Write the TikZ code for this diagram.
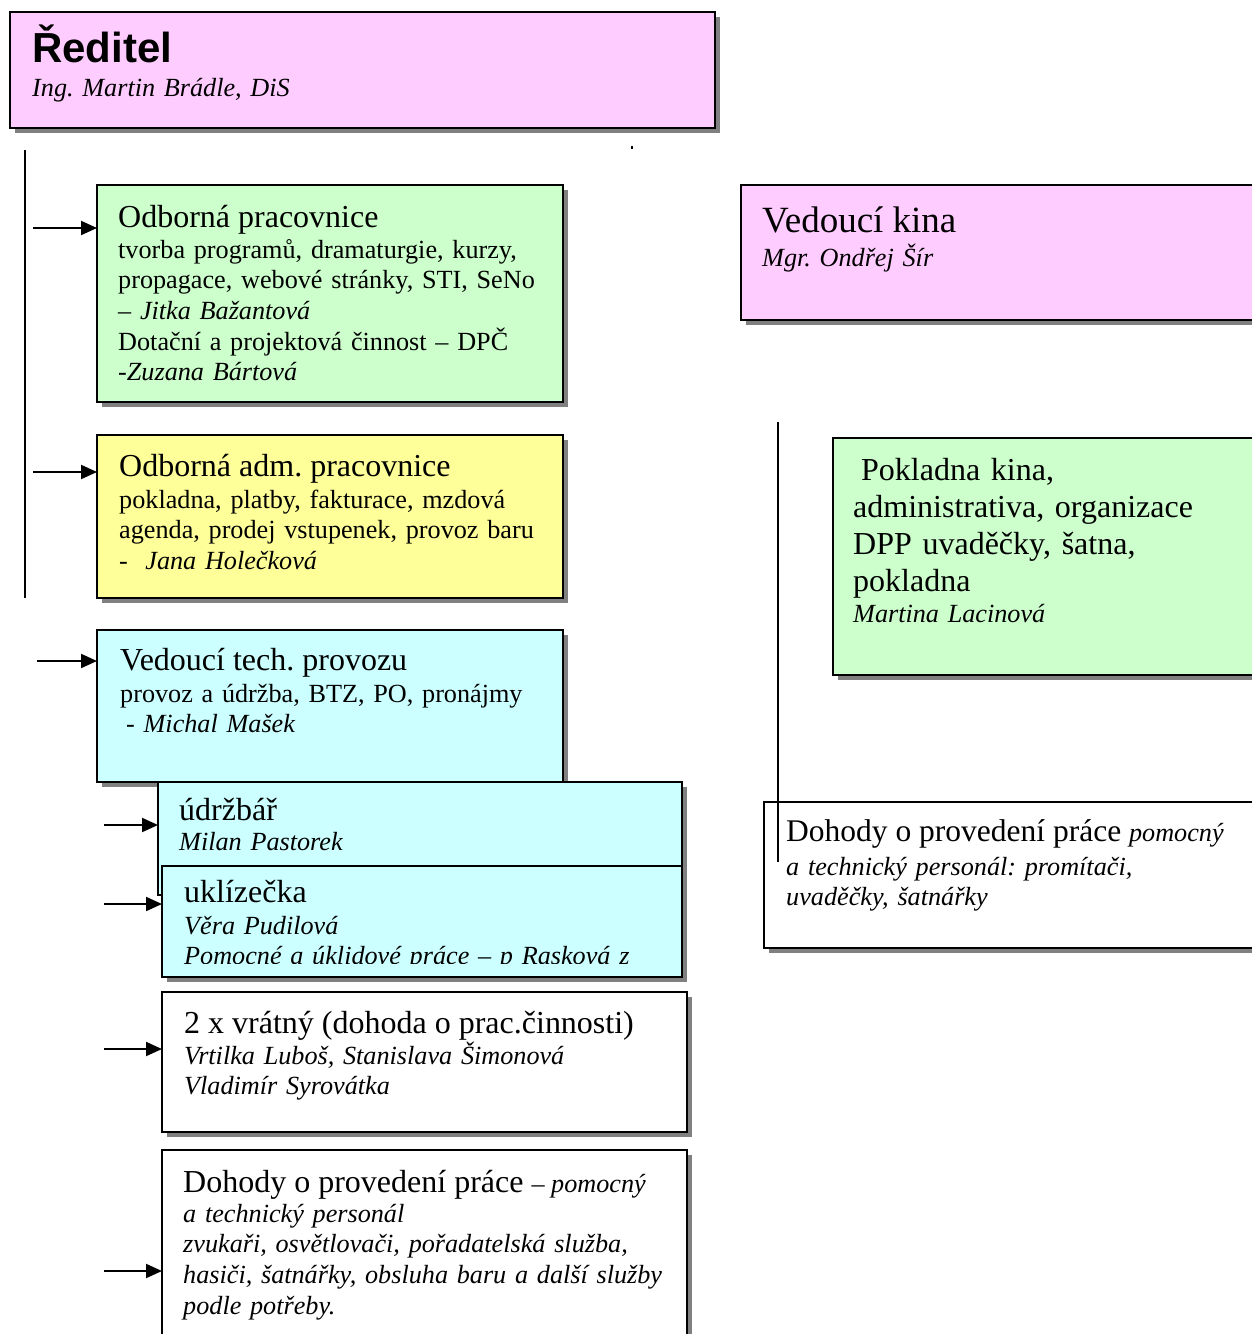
\documentclass[tikz,border=0pt]{standalone}
\usepackage{fontspec}
\setmainfont{Liberation Serif}
\newfontfamily\headsans{Liberation Sans}
\usepackage{xcolor}
\usepackage{tikz}
\usetikzlibrary{calc,arrows.meta,shadows}
\definecolor{pinkbg}{HTML}{FFCCFF}
\definecolor{greenbg}{HTML}{CCFFCC}
\definecolor{yellowbg}{HTML}{FFFF99}
\definecolor{cyanbg}{HTML}{CCFFFF}
\definecolor{shade}{HTML}{808080}
\tikzset{
  box/.style={draw=black, line width=1.5pt, anchor=north west, inner sep=0pt, outer sep=0pt,
    drop shadow={shadow xshift=5pt, shadow yshift=-5pt, fill=shade, opacity=1}},
  ttl/.style={anchor=base west, inner sep=0pt, font=\fontsize{32}{36}\selectfont},
  txt/.style={anchor=base west, inner sep=0pt, align=left, text width=560pt,
    font=\fontsize{26.2}{30.7}\selectfont},
  arr/.style={line width=2pt, -{Triangle[length=16pt,width=14pt]}},
  rule/.style={line width=2pt},
}
\frenchspacing
\begin{document}
\begin{tikzpicture}[x=1pt,y=-1pt]
  \useasboundingbox (0,0) rectangle (1252,1334);
  \clip (0,0) rectangle (1252,1334);

  % left column
  \node[box, fill=pinkbg, minimum width=705pt, minimum height=116pt] (red) at (10,12) {};
  \node[anchor=base west, inner sep=0pt, font=\headsans\bfseries\fontsize{42}{46}\selectfont] (redT) at (32,62) {Ředitel};
  \node[txt] (redB) at (32,96) {\textit{Ing. Martin Brádle, DiS}};
  \fill (631,146) rectangle (633,149);

  \node[box, fill=greenbg, minimum width=466pt, minimum height=217pt] (opn) at (97,185) {};
  \node[ttl] (opnT) at (118,227) {Odborná pracovnice};
  \node[txt] (opnB) at (118,258) {tvorba programů, dramaturgie, kurzy,\\
    propagace, webové stránky, STI, SeNo\\
    \textit{– Jitka Bažantová}\\
    Dotační a projektová činnost – DPČ\\
    \textit{-Zuzana Bártová}};

  \node[box, fill=yellowbg, minimum width=466pt, minimum height=163pt] (adm) at (97,435) {};
  \node[ttl] (admT) at (119,476) {Odborná adm. pracovnice};
  \node[txt] (admB) at (119,508) {pokladna, platby, fakturace, mzdová\\
    agenda, prodej vstupenek, provoz baru\\
    - \ \textit{Jana Holečková}};

  \node[box, fill=cyanbg, minimum width=466pt, minimum height=152pt] (tech) at (97,630) {};
  \node[ttl] (techT) at (120,670) {Vedoucí tech. provozu};
  \node[txt] (techB) at (120,702) {provoz a údržba, BTZ, PO, pronájmy\\
    \hspace*{6pt}- \textit{Michal Mašek}};

  \node[box, fill=cyanbg, minimum width=524pt, minimum height=113pt] (udr) at (158,782) {};
  \node[ttl] (udrT) at (179,820) {údržbář};
  \node[txt] (udrB) at (179,850) {\textit{Milan Pastorek}};

  \node[box, fill=cyanbg, minimum width=520pt, minimum height=111pt] (ukl) at (162,866) {};
  \node[ttl] (uklT) at (184,902) {uklízečka};
  \begin{scope}
    \clip (162,866) rectangle (682,963);
    \node[txt] (uklB) at (184,934) {\textit{Věra Pudilová}\\
      \textit{Pomocné a úklidové práce – p Rasková z}};
  \end{scope}

  \node[box, fill=white, minimum width=525pt, minimum height=140pt] (vrt) at (162,992) {};
  \node[ttl] (vrtT) at (184,1033) {2 x vrátný (dohoda o prac.činnosti)};
  \node[txt] (vrtB) at (184,1064) {\textit{Vrtilka Luboš, Stanislava Šimonová}\\
    \textit{Vladimír Syrovátka}};

  \node[box, fill=white, minimum width=525pt, minimum height=200pt] (dpp) at (162,1150) {};
  \node[ttl] (dppT) at (183,1192) {Dohody o provedení práce {\fontsize{26.2}{30}\selectfont – \textit{pomocný}}};
  \node[txt] (dppB) at (183,1222) {\textit{a technický personál}\\
    \textit{zvukaři, osvětlovači, pořadatelská služba,}\\
    \textit{hasiči, šatnářky, obsluha baru a další služby}\\
    \textit{podle potřeby.}};

  \coordinate (top) at (25,150);
  \coordinate (bot) at (25,598);
  \draw[rule] (top) -- (bot);
  \coordinate (aOpn) at (33,228);
  \coordinate (aAdm) at (33,472);
  \coordinate (aTech) at (37,661);
  \coordinate (aUdr) at (104,825);
  \coordinate (aUkl) at (104,904);
  \coordinate (aVrt) at (104,1049);
  \coordinate (aDpp) at (104,1271);
  \draw[arr] (aOpn) -- (aOpn -| opn.west);
  \draw[arr] (aAdm) -- (aAdm -| adm.west);
  \draw[arr] (aTech) -- (aTech -| tech.west);
  \draw[arr] (aUdr) -- (aUdr -| udr.west);
  \draw[arr] (aUkl) -- (aUkl -| ukl.west);
  \draw[arr] (aVrt) -- (aVrt -| vrt.west);
  \draw[arr] (aDpp) -- (aDpp -| dpp.west);

  % right column
  \node[box, fill=pinkbg, minimum width=530pt, minimum height=135pt] (kino) at (741,185) {};
  \node[anchor=base west, inner sep=0pt, font=\fontsize{37}{40}\selectfont] (kinoT) at (762,232) {Vedoucí kina};
  \node[txt] (kinoB) at (762,266) {\textit{Mgr. Ondřej Šír}};

  \node[box, fill=greenbg, minimum width=440pt, minimum height=237pt] (pokl) at (833,438) {};
  \node[txt, font=\fontsize{32}{37}\selectfont] (poklT) at (853,480) {\hspace*{8pt}Pokladna kina,\\
    administrativa, organizace\\
    DPP uvaděčky, šatna,\\
    pokladna};
  \node[txt] (poklB) at (853,622) {\textit{Martina Lacinová}};

  \node[box, fill=white, minimum width=510pt, minimum height=146pt] (dppk) at (764,802) {};
  \node[anchor=base west, inner sep=0pt, font=\fontsize{31.5}{36}\selectfont] (dppkT) at (786,841) {Dohody o provedení práce {\fontsize{26.2}{30}\selectfont\textit{pomocný}}};
  \node[txt] (dppkB) at (786,875) {\textit{a technický personál: promítači,}\\
    \textit{uvaděčky, šatnářky}};

  \coordinate (rtop) at (778,422);
  \coordinate (rbot) at (778,862);
  \draw[rule] (rtop) -- (rbot);
\end{tikzpicture}
\end{document}
